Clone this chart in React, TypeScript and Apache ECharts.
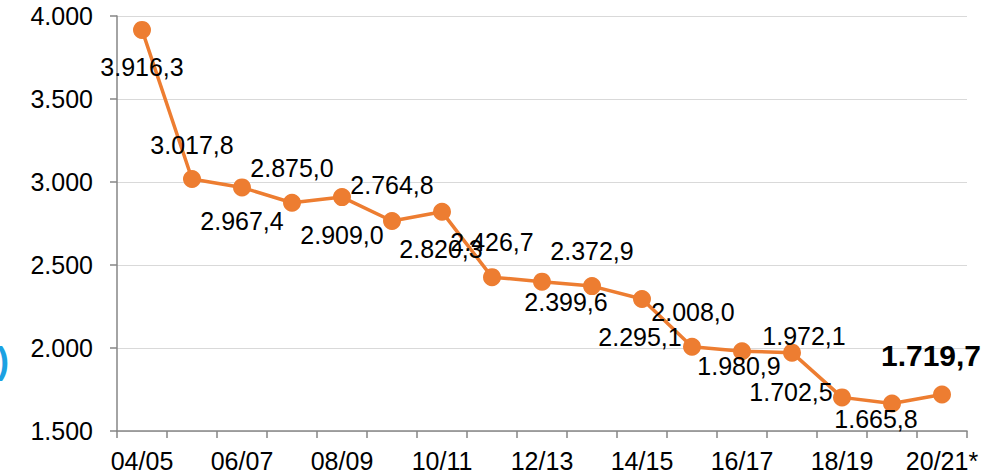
import React, { useEffect, useRef } from "react";
import * as echarts from "echarts";

const categories = [
  "04/05", "05/06", "06/07", "07/08", "08/09", "09/10", "10/11", "11/12",
  "12/13", "13/14", "14/15", "15/16", "16/17", "17/18", "18/19", "19/20", "20/21*",
];
const values = [
  3916.3, 3017.8, 2967.4, 2875.0, 2909.0, 2764.8, 2820.3, 2426.7,
  2399.6, 2372.9, 2295.1, 2008.0, 1980.9, 1972.1, 1702.5, 1665.8, 1719.7,
];
const yTicks = { min: 1500, max: 4000, interval: 500 };
// label offsets relative to point centre (layout only)
const labelOffsets: [number, number][] = [
  [0, 37], [0, -34], [0, 34], [0, -35], [0, 38], [0, -36], [-1, 37], [0, -35],
  [24, 20], [0, -35], [-2, 38], [1, -35], [-3, 15], [12, -17], [-51, -5], [-16, 16], [-11, -39],
];

const FONT = "'Liberation Sans', Arial, sans-serif";
const SYMBOL = 18;

function fmtThousands(n: number, decimals: number): string {
  const s = n.toFixed(decimals);
  const [intPart, dec] = s.split(".");
  const withSep = intPart.replace(/\B(?=(\d{3})+(?!\d))/g, ".");
  return dec !== undefined ? withSep + "," + dec : withSep;
}

export default function App() {
  const ref = useRef<HTMLDivElement>(null);
  useEffect(() => {
    if (!ref.current) return;
    const chart = echarts.init(ref.current, null, { renderer: "svg" });
    const last = values.length - 1;
    chart.setOption({
      animation: false,
      backgroundColor: "#ffffff",
      grid: { left: 117, right: 17, top: 16, bottom: 45, containLabel: false },
      xAxis: {
        type: "category",
        data: categories,
        boundaryGap: true,
        axisLine: { lineStyle: { color: "#868686", width: 1.5 } },
        axisTick: { show: true, interval: 0, length: 7, lineStyle: { color: "#868686", width: 1.5 } },
        axisLabel: {
          interval: 1,
          color: "#000",
          fontFamily: FONT,
          fontSize: 25,
          margin: 17,
        },
        splitLine: { show: false },
      },
      yAxis: {
        type: "value",
        min: yTicks.min,
        max: yTicks.max,
        interval: yTicks.interval,
        axisLine: { show: true, lineStyle: { color: "#868686", width: 1.5 } },
        axisTick: { show: true, length: 7, lineStyle: { color: "#868686", width: 1.5 } },
        axisLabel: {
          color: "#000",
          fontFamily: FONT,
          fontSize: 25,
          margin: 24,
          formatter: (v: number) => fmtThousands(v, 0),
        },
        splitLine: { show: true, lineStyle: { color: "#D9D9D9", width: 1 } },
      },
      series: [
        {
          type: "line",
          data: values.map((v, i) => ({
            value: v,
            label: {
              show: true,
              position: [SYMBOL / 2 + labelOffsets[i][0], SYMBOL / 2 + labelOffsets[i][1]],
              align: "center",
              verticalAlign: "middle",
              color: "#000",
              fontFamily: FONT,
              fontSize: i === last ? 30 : 25,
              fontWeight: i === last ? "bold" : "normal",
              formatter: () => fmtThousands(v, 1),
            },
          })),
          symbol: "circle",
          symbolSize: SYMBOL,
          itemStyle: { color: "#ED7D31" },
          lineStyle: { color: "#ED7D31", width: 3.5 },
          labelLayout: { hideOverlap: false },
        },
      ],
      graphic: [
        {
          type: "text",
          left: -3,
          top: 342,
          style: {
            text: ")",
            fill: "#1BA1E2",
            font: `bold 36px ${FONT}`,
          },
        },
      ],
    });
    return () => chart.dispose();
  }, []);
  return (
    <div
      ref={ref}
      style={{ position: "fixed", left: 0, top: 0, width: 984, height: 476 }}
    />
  );
}
